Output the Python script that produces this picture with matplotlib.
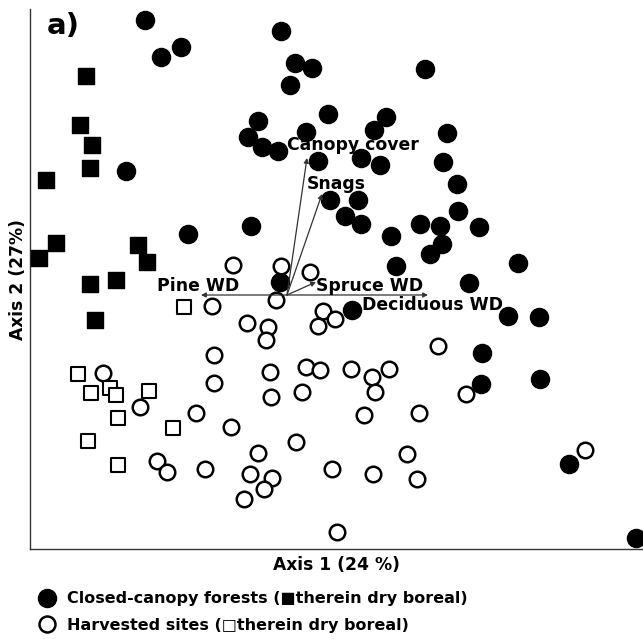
import matplotlib
matplotlib.use('Agg')
import matplotlib.pyplot as plt
from matplotlib.lines import Line2D

# site scores on the first two ordination axes
closed_x = [-1.42, -1.26, -1.06, -0.06, 0.08, 0.25, 0.03, 1.38, -0.29, 0.41, 0.99, 0.87,
            0.19, 1.60, -0.39, -0.25, -0.09, -1.61, 0.31, 0.74, 0.93, 1.56, 1.70, 0.43,
            0.71, 0.58, 0.74, 1.71, -0.99, -0.36, 1.04, 1.33, 1.53, 1.55, 1.43, 1.92,
            1.09, 2.31, 1.82, -0.07, 0.65, 2.21, 2.52, 1.95, 1.94, 2.53, 2.82, 3.49]
closed_y = [2.75, 2.38, 2.48, 2.64, 2.32, 2.27, 2.10, 2.26, 1.74, 1.81, 1.78, 1.65,
            1.63, 1.62, 1.58, 1.48, 1.44, 1.24, 1.34, 1.37, 1.30, 1.33, 1.11, 0.95,
            0.95, 0.79, 0.71, 0.84, 0.61, 0.69, 0.59, 0.71, 0.69, 0.51, 0.41, 0.68,
            0.29, 0.32, 0.12, 0.13, -0.15, -0.21, -0.22, -0.58, -0.89, -0.84, -1.69, -2.43]

closed_dry_x = [-2.01, -2.07, -1.95, -1.97, -2.41, -2.31, -2.48, -1.49, -1.40, -1.97, -1.71, -1.92]
closed_dry_y = [2.19, 1.70, 1.50, 1.27, 1.15, 0.52, 0.37, 0.50, 0.33, 0.11, 0.15, -0.25]

harv_x = [-0.54, -0.06, 0.23, -0.75, -0.11, -0.40, -0.19, -0.21, 0.36, 0.48, 0.31, 1.51,
          -0.73, -0.73, -0.17, -0.16, 0.19, 0.33, 0.15, 0.64, 0.85, 1.02, 0.88, 1.79,
          0.77, 1.32, -1.84, -1.47, -0.91, -0.56, 0.09, -0.29, -1.30, -1.20, -0.82, -0.37,
          -0.15, -0.23, -0.43, 1.20, 0.45, 0.86, 1.30, 2.98, 0.50]
harv_y = [0.30, 0.29, 0.23, -0.11, -0.05, -0.28, -0.32, -0.45, -0.16, -0.24, -0.31, -0.51,
          -0.60, -0.88, -0.77, -1.02, -0.72, -0.75, -0.97, -0.74, -0.82, -0.74, -0.97, -0.99,
          -1.20, -1.18, -0.78, -1.12, -1.18, -1.32, -1.47, -1.58, -1.66, -1.77, -1.74, -1.79,
          -1.83, -1.94, -2.04, -1.59, -1.74, -1.79, -1.84, -1.55, -2.37]

harv_dry_x = [-1.03, -2.09, -1.96, -1.77, -1.71, -1.38, -1.69, -1.14, -1.99, -1.69]
harv_dry_y = [-0.12, -0.79, -0.98, -0.93, -1.00, -0.96, -1.23, -1.33, -1.46, -1.70]

# fitted environmental vectors
vector_names = ['Canopy cover', 'Snags', 'Spruce WD', 'Pine WD', 'Deciduous WD']
vector_x = [0.20, 0.35, 0.29, -0.86, 1.41]
vector_y = [1.37, 1.01, 0.13, 0.00, 0.00]
label_x = [0.00, 0.20, 0.29, -1.30, 0.75]
label_y = [1.50, 1.11, 0.09, 0.09, -0.10]

plt.rcParams['font.family'] = 'DejaVu Sans'
plt.rcParams['font.weight'] = 'bold'

fig = plt.figure(figsize=(6.43, 6.39), dpi=100)
ax = fig.add_axes([30 / 643, 90 / 639, 613 / 643, 540 / 639])

ax.scatter(closed_x, closed_y, s=170, marker='o', facecolor='black', edgecolor='black',
           linewidth=1, clip_on=False, zorder=3)
ax.scatter(closed_dry_x, closed_dry_y, s=125, marker='s', facecolor='black', edgecolor='black',
           linewidth=1, clip_on=False, zorder=3)
ax.scatter(harv_x, harv_y, s=125, marker='o', facecolor='white', edgecolor='black',
           linewidth=1.8, clip_on=False, zorder=3)
ax.scatter(harv_dry_x, harv_dry_y, s=88, marker='s', facecolor='white', edgecolor='black',
           linewidth=1.5, clip_on=False, zorder=3)

# vectors drawn from the origin
for name, vx, vy, lx, ly in zip(vector_names, vector_x, vector_y, label_x, label_y):
    ax.annotate('', xy=(vx, vy), xytext=(0, 0),
                arrowprops=dict(arrowstyle='-|>', color='#333333', lw=0.9,
                                mutation_scale=7, shrinkA=0, shrinkB=0), zorder=4)
    ax.text(lx, ly, name, ha='left', va='center', fontsize=12.4, fontweight='bold', zorder=5)

ax.set_xlim(-2.57, 3.56)
ax.set_ylim(-2.54, 2.86)
ax.set_xticks([])
ax.set_yticks([])
for side in ['top', 'right']:
    ax.spines[side].set_visible(False)
for side in ['left', 'bottom']:
    ax.spines[side].set_color('#333333')
    ax.spines[side].set_linewidth(1.0)

ax.set_xlabel('Axis 1 (24 %)', fontsize=12.3, fontweight='bold', labelpad=5)
ax.set_ylabel('Axis 2 (27%)', fontsize=12.3, fontweight='bold', labelpad=2)

fig.text(47 / 643, 1 - 26 / 639, 'a)', fontsize=21, fontweight='bold', ha='left', va='center')

handles = [Line2D([], [], marker='o', linestyle='none', markersize=13, markerfacecolor='black',
                  markeredgecolor='black'),
           Line2D([], [], marker='o', linestyle='none', markersize=11.5, markerfacecolor='white',
                  markeredgecolor='black', markeredgewidth=1.8)]
labels = ['Closed-canopy forests (\u25A0therein dry boreal)',
          'Harvested sites (\u25A1therein dry boreal)']
fig.legend(handles, labels, loc='center left', bbox_to_anchor=(37 / 643, 1 - 612 / 639),
           frameon=False, handlelength=1.2, handletextpad=0.65, labelspacing=0.7,
           borderpad=0, borderaxespad=0, prop={'size': 11.5, 'weight': 'bold'})

fig.savefig('out.png', dpi=100)
